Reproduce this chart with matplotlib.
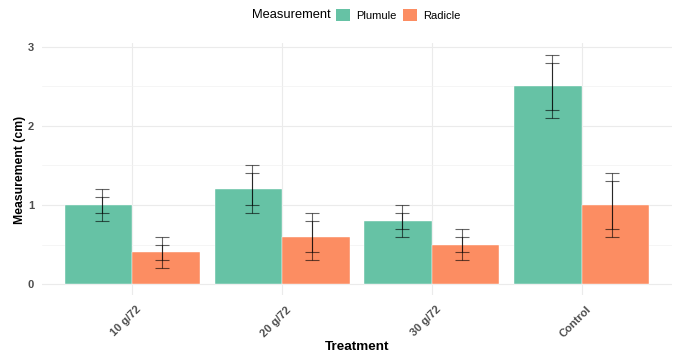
import matplotlib.pyplot as plt
import matplotlib.transforms as mtransforms
import numpy as np
from matplotlib.patches import Patch

plt.rcParams['font.family'] = ['Liberation Sans', 'DejaVu Sans']

treatments = ['10 g/72', '20 g/72', '30 g/72', 'Control']
plumule = [1.0, 1.2, 0.8, 2.5]
radicle = [0.4, 0.6, 0.5, 1.0]
# two sets of error bars drawn over each bar
plumule_err_outer = [0.2, 0.3, 0.2, 0.4]
plumule_err_inner = [0.1, 0.2, 0.1, 0.3]
radicle_err_outer = [0.2, 0.3, 0.2, 0.4]
radicle_err_inner = [0.1, 0.2, 0.1, 0.3]

green = '#66C2A5'
orange = '#FC8D62'

fig = plt.figure(figsize=(6.75, 3.58), dpi=100)
ax = fig.add_axes([0.0628, 0.1746, 0.995 - 0.0628, 0.8788 - 0.1746])

x = np.arange(1, len(treatments) + 1)
w = 0.45
ax.bar(x - w / 2, plumule, width=w, color=green, edgecolor='#ffffff', linewidth=0.3, zorder=2)
ax.bar(x + w / 2, radicle, width=w, color=orange, edgecolor='#ffffff', linewidth=0.3, zorder=2)

for err in [plumule_err_outer, plumule_err_inner]:
    ax.errorbar(x - 0.2, plumule, yerr=err, fmt='none', ecolor='black',
                elinewidth=0.8, capsize=5, capthick=0.8, alpha=0.6, zorder=3)
for err in [radicle_err_outer, radicle_err_inner]:
    ax.errorbar(x + 0.2, radicle, yerr=err, fmt='none', ecolor='black',
                elinewidth=0.8, capsize=5, capthick=0.8, alpha=0.6, zorder=3)

ax.set_xlim(0.4, 4.6)
ax.set_ylim(-0.145, 3.045)
ax.set_yticks([0, 1, 2, 3])
ax.set_yticks([0.5, 1.5, 2.5], minor=True)
ax.set_xticks(x)
ax.set_xticklabels(treatments, rotation=45, ha='right', va='top', rotation_mode='anchor')

ax.grid(True, which='major', color='#EBEBEB', linewidth=0.8, zorder=0)
ax.grid(True, which='minor', axis='y', color='#F2F2F2', linewidth=0.5, zorder=0)
ax.set_axisbelow(True)
for s in ax.spines.values():
    s.set_visible(False)
ax.tick_params(which='both', length=0)
ax.tick_params(axis='y', pad=6)
ax.tick_params(axis='x', pad=6.5)
shift = mtransforms.ScaledTranslation(4 / 100, 0, fig.dpi_scale_trans)
for lbl in ax.get_xticklabels():
    lbl.set_transform(lbl.get_transform() + shift)
for lbl in ax.get_xticklabels() + ax.get_yticklabels():
    lbl.set_fontsize(8)
    lbl.set_fontweight('bold')
    lbl.set_color('#4D4D4D')

fig.text(20 / 675, 1 - 170 / 358, 'Measurement (cm)', rotation=90, ha='center', va='center',
         fontsize=8.8, fontweight='bold')
fig.text(357 / 675, 1 - 347 / 358, 'Treatment', ha='center', va='center',
         fontsize=9.7, fontweight='bold')

fig.text(331 / 675, 1 - 15 / 358, 'Measurement', ha='right', va='center', fontsize=9.3)
handles = [Patch(facecolor=green, edgecolor='none'), Patch(facecolor=orange, edgecolor='none')]
fig.legend(handles, ['Plumule', 'Radicle'], loc='center left', bbox_to_anchor=(336 / 675, 1 - 15 / 358),
           ncol=2, frameon=False, fontsize=8, handlelength=1.3, handleheight=1.3,
           handletextpad=0.55, columnspacing=0.55, borderpad=0, borderaxespad=0)

fig.savefig('out.png', dpi=100)
